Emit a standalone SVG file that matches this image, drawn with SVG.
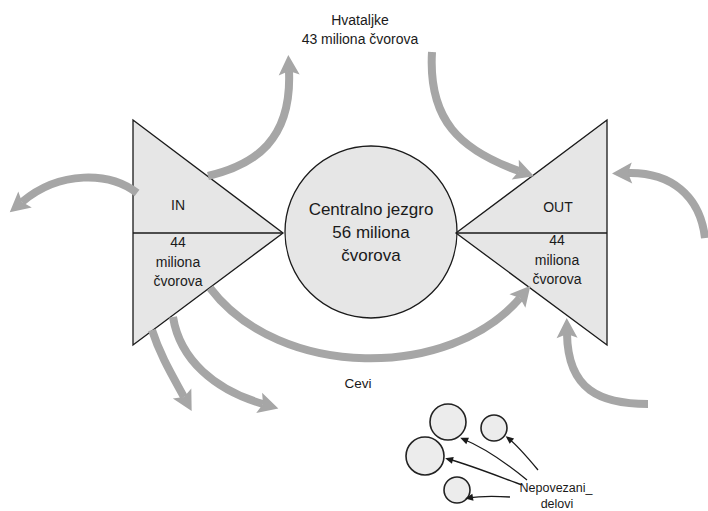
<svg xmlns="http://www.w3.org/2000/svg" width="708" height="511" viewBox="0 0 708 511">
<style>
.shape{fill:#e6e6e6;stroke:#1a1a1a;stroke-width:1.3}
.div{stroke:#1a1a1a;stroke-width:1.3;fill:none}
.t{font-family:"Liberation Sans",Arial,sans-serif;fill:#1a1a1a;text-anchor:middle}
.big{font-size:17px}
.mid{font-size:14px}
.sm{font-size:12.5px}
.g{fill:none;stroke:#a6a6a6;stroke-width:8}
.k{fill:none;stroke:#1a1a1a;stroke-width:1.3}
.dc{fill:#ececec;stroke:#222;stroke-width:1.6}
</style>
<defs>
<marker id="ah" markerUnits="userSpaceOnUse" markerWidth="32" markerHeight="32" viewBox="-10 -16 32 32" refX="0" refY="0" orient="auto">
<path d="M-4,-10.5 L16,0 L-4,10.5 L0,0 Z" fill="#a6a6a6"/>
</marker>
<marker id="bh" markerUnits="userSpaceOnUse" markerWidth="12" markerHeight="12" viewBox="-6 -6 12 12" refX="0" refY="0" orient="auto">
<path d="M-5,-3.5 L3,0 L-5,3.5 Z" fill="#1a1a1a"/>
</marker>
</defs>
<g id="in">
<polygon class="shape" points="133,120 283,233 133,345"/>
<line class="div" x1="133" y1="233" x2="283" y2="233"/>
<text class="t mid" x="178" y="210">IN</text>
<text class="t mid" x="178" y="247">44</text>
<text class="t mid" x="178" y="267">miliona</text>
<text class="t mid" x="178" y="286">čvorova</text>
</g>
<g id="core">
<circle class="shape" cx="371" cy="232" r="86"/>
<text class="t big" x="371" y="215">Centralno jezgro</text>
<text class="t big" x="371" y="238">56 miliona</text>
<text class="t big" x="371" y="261">čvorova</text>
</g>
<g id="out">
<polygon class="shape" points="607,120 456,233 607,345"/>
<line class="div" x1="456" y1="233" x2="607" y2="233"/>
<text class="t mid" x="558" y="212">OUT</text>
<text class="t mid" x="557" y="245">44</text>
<text class="t mid" x="557" y="265">miliona</text>
<text class="t mid" x="557" y="284">čvorova</text>
</g>
<g id="tendrils-label">
<text class="t mid" x="360" y="25">Hvataljke</text>
<text class="t mid" x="360" y="44">43 miliona čvorova</text>
</g>
<g id="tubes-label">
<text class="t sm" x="358" y="388" style="font-size:13.5px">Cevi</text>
</g>
<g id="disconnected">
<circle class="dc" cx="448" cy="422" r="18"/>
<circle class="dc" cx="494" cy="428" r="13"/>
<circle class="dc" cx="425" cy="456" r="19"/>
<circle class="dc" cx="457" cy="490" r="13"/>
<text class="t sm" x="556" y="492">Nepovezani_</text>
<text class="t sm" x="557" y="508">delovi</text>
</g>
<g id="connectors">
<path class="g" marker-end="url(#ah)" d="M208,176 C255,165 292,140 289,71"/>
<path class="g" marker-end="url(#ah)" d="M137,193 C110,172 60,170 22,202"/>
<path class="g" marker-end="url(#ah)" d="M432,52 C428,120 460,150 519,171"/>
<path class="g" marker-end="url(#ah)" d="M705,238 C700,195 670,172 628,173"/>
<path class="g" marker-end="url(#ah)" d="M648,404 C600,404 568,390 567,334"/>
<path class="g" marker-end="url(#ah)" d="M210,288 C280,380 450,380 520,298"/>
<path class="g" marker-end="url(#ah)" d="M152,330 C160,355 172,375 184,397"/>
<path class="g" marker-end="url(#ah)" d="M173,317 C180,360 215,390 263,404"/>
<path class="k" marker-end="url(#bh)" d="M527,480 C505,462 485,448 463,439"/>
<path class="k" marker-end="url(#bh)" d="M522,485 C495,475 470,465 448,459"/>
<path class="k" marker-end="url(#bh)" d="M538,470 C528,458 518,446 508,438"/>
<path class="k" marker-end="url(#bh)" d="M510,497 C495,496 480,496 468,498"/>
</g>
</svg>
